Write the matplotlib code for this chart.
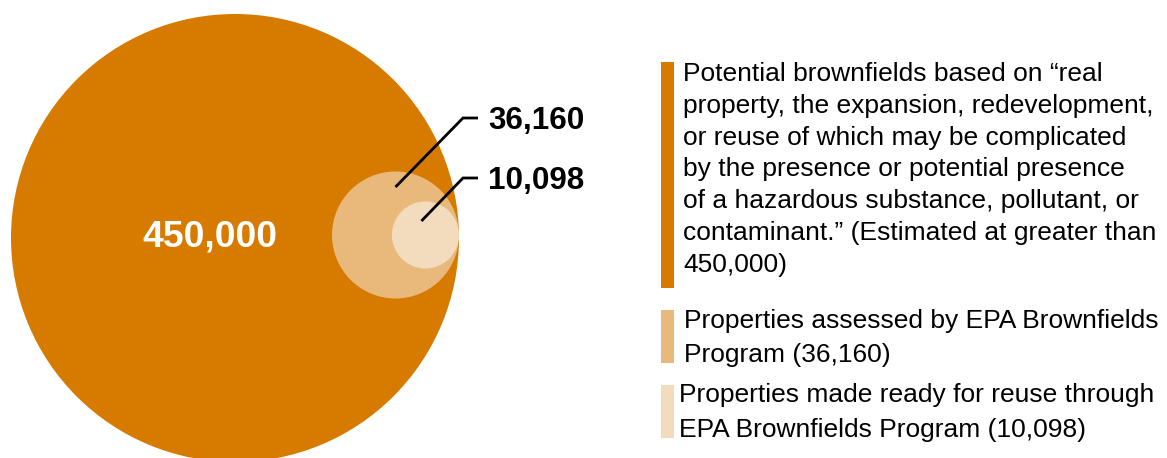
import matplotlib
matplotlib.use("Agg")
import matplotlib.pyplot as plt
from matplotlib.patches import Circle, Rectangle
import numpy as np

plt.rcParams['font.family'] = ['Liberation Sans', 'DejaVu Sans']

# ---- data ----
values = [450000, 36160, 10098]
value_labels = ["450,000", "36,160", "10,098"]
legend_lines = [
    ["Potential brownfields based on \u201creal",
     "property, the expansion, redevelopment,",
     "or reuse of which may be complicated",
     "by the presence or potential presence",
     "of a hazardous substance, pollutant, or",
     "contaminant.\u201d (Estimated at greater than",
     "450,000)"],
    ["Properties assessed by EPA Brownfields",
     "Program (36,160)"],
    ["Properties made ready for reuse through",
     "EPA Brownfields Program (10,098)"],
]
colors = ["#D67A00", "#E8B97B", "#F3DCBD"]

# ---- layout ----
W, H = 1167, 458
fig = plt.figure(figsize=(W / 100, H / 100), dpi=100)
ax = fig.add_axes([0, 0, 1, 1])
ax.set_xlim(0, W)
ax.set_ylim(H, 0)
ax.set_aspect('equal')
ax.axis('off')

R_max = 224
right_x = 459
cy_list = [238, 235, 235]
radii = [R_max * np.sqrt(v / values[0]) for v in values]
centers = [(right_x - r, cyy) for r, cyy in zip(radii, cy_list)]
for (cx, cyy), r, c in zip(centers, radii, colors):
    ax.add_patch(Circle((cx, cyy), r, facecolor=c, edgecolor='none'))

# big label
ax.text(centers[0][0] - 25, 237, value_labels[0], color='white', fontsize=26.8,
        fontweight='bold', ha='center', va='center')

# leader lines and labels
anchors = [(centers[1][0], 187), (centers[2][0] - 4, 221)]
elbows = [(463, 118), (463, 178)]
ends = [(478, 118), (478, 178)]
for (ax0, ay0), (ex, ey), (hx, hy), lab in zip(anchors, elbows, ends, value_labels[1:]):
    ax.plot([ax0, ex, hx], [ay0, ey, hy], color='black', lw=2.0, solid_capstyle='butt',
            solid_joinstyle='miter')
    ax.text(488, hy + 2.5, lab, color='black', fontsize=22.6, fontweight='bold',
            ha='left', va='center')

# legend
bars = [(62, 288), (310, 363), (385, 438)]
text_x = [683, 684, 679]
baseline0 = [81, 328, 401.7]
pitch = [31.8, 33.7, 35.0]
for (y0, y1), tx, b0, p, lines, c in zip(bars, text_x, baseline0, pitch, legend_lines, colors):
    ax.add_patch(Rectangle((661, y0), 13, y1 - y0, facecolor=c, edgecolor='none'))
    for i, line in enumerate(lines):
        ax.text(tx, b0 + i * p, line, fontsize=19, color='black', ha='left',
                va='baseline')

fig.savefig("out.png", dpi=100)
